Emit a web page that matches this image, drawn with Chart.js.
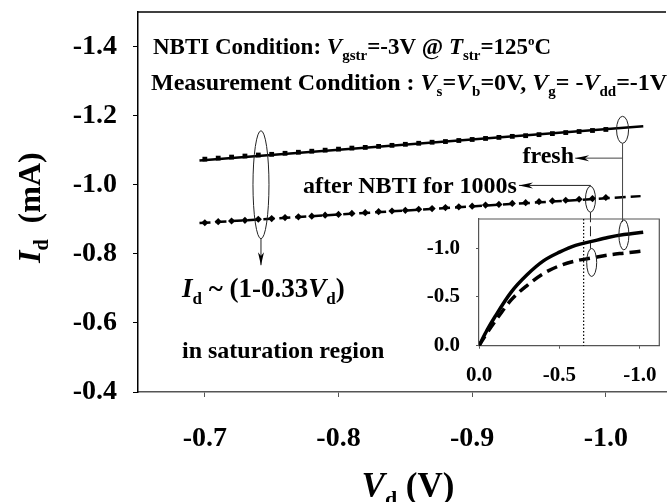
<!DOCTYPE html>
<html lang="en">
<head>
<meta charset="UTF-8" />
<title>NBTI Id-Vd</title>
<script src="https://cdn.jsdelivr.net/npm/chart.js@4"></script>
<style>
  html, body { margin: 0; padding: 0; background: #fff; }
  #wrap { position: relative; width: 670px; height: 502px; }
  #mainChart { position: absolute; left: 0; top: 0; }
  #insetChart { position: absolute; left: 400px; top: 200px; }
</style>
</head>
<body>
<div id="wrap">
  <canvas id="mainChart" width="670" height="502"></canvas>
  <canvas id="insetChart" width="270" height="200"></canvas>
</div>

<script>
  // ---- data ----
  const vdPoints = [-0.70, -0.71, -0.72, -0.73, -0.74, -0.75, -0.76, -0.77, -0.78, -0.79,
                    -0.80, -0.81, -0.82, -0.83, -0.84, -0.85, -0.86, -0.87, -0.88, -0.89,
                    -0.90, -0.91, -0.92, -0.93, -0.94, -0.95, -0.96, -0.97, -0.98, -0.99, -1.00];
  const idFresh = [-1.074, -1.077, -1.080, -1.083, -1.086, -1.088, -1.091, -1.094, -1.097, -1.100,
                   -1.103, -1.106, -1.108, -1.111, -1.114, -1.117, -1.120, -1.123, -1.125, -1.128,
                   -1.131, -1.134, -1.137, -1.140, -1.142, -1.145, -1.148, -1.151, -1.154, -1.157, -1.160];
  const idNbti = [-0.890, -0.893, -0.895, -0.897, -0.900, -0.902, -0.905, -0.907, -0.909, -0.912,
                  -0.914, -0.917, -0.919, -0.922, -0.924, -0.926, -0.929, -0.931, -0.934, -0.936,
                  -0.938, -0.941, -0.943, -0.946, -0.948, -0.951, -0.953, -0.955, -0.958, -0.960, -0.963];
  // linear fits drawn through the data
  const fitFreshVd = [-0.696, -1.028];
  const fitFreshId = [-1.070, -1.169];
  const fitNbtiVd = [-0.696, -1.026];
  const fitNbtiId = [-0.889, -0.967];
  const xTicks = [-0.7, -0.8, -0.9, -1.0];
  const yTicks = [-0.4, -0.6, -0.8, -1.0, -1.2, -1.4];

  // inset: full Id-Vd curves
  const insetVd = [0, -0.05, -0.1, -0.2, -0.3, -0.4, -0.5, -0.6, -0.7, -0.8, -0.9, -1.02];
  const insetFresh = [0, -0.16, -0.30, -0.55, -0.73, -0.87, -0.96, -1.03, -1.07, -1.11, -1.14, -1.165];
  const insetNbti = [0, -0.13, -0.25, -0.47, -0.62, -0.74, -0.82, -0.87, -0.90, -0.93, -0.95, -0.972];
  const insetXTicks = [0, -0.5, -1.0];
  const insetYTicks = [0, -0.5, -1.0];
  const insetSatVd = -0.65;

  const FONT = '"Liberation Serif", "Times New Roman", serif';

  const pts = (xs, ys) => xs.map((x, i) => ({ x: x, y: ys[i] }));

  // draw a run of bold text with italic / sub / superscript pieces
  function rich(ctx, x, y, parts, size, dryRun) {
    let cx = x;
    parts.forEach(([t, k]) => {
      let fs = size, dy = 0, style = 'bold';
      if (k === 'i') style = 'italic bold';
      if (k === 's') { fs = Math.round(size * 0.64); dy = size * 0.25; }
      if (k === 'u') { fs = Math.round(size * 0.58); dy = -size * 0.38; }
      ctx.font = style + ' ' + fs + 'px ' + FONT;
      if (!dryRun) ctx.fillText(t, cx, y + dy);
      cx += ctx.measureText(t).width;
    });
    return cx - x;
  }

  function ellipse(ctx, cx, cy, rx, ry) {
    ctx.beginPath();
    ctx.ellipse(cx, cy, rx, ry, 0, 0, Math.PI * 2);
    ctx.stroke();
  }

  // barbed arrow head pointing from (x0,y0) to (x1,y1)
  function arrowHead(ctx, x0, y0, x1, y1, len, half) {
    const a = Math.atan2(y1 - y0, x1 - x0);
    const c = Math.cos(a), s = Math.sin(a);
    ctx.beginPath();
    ctx.moveTo(x1, y1);
    ctx.lineTo(x1 - len * c + half * s, y1 - len * s - half * c);
    ctx.lineTo(x1 - len * 0.7 * c, y1 - len * 0.7 * s);
    ctx.lineTo(x1 - len * c - half * s, y1 - len * s + half * c);
    ctx.closePath();
    ctx.fill();
  }

  const mainNotes = {
    id: 'mainNotes',
    afterDraw(chart) {
      const ctx = chart.ctx;
      const X = v => chart.scales.x.getPixelForValue(v);
      const Y = v => chart.scales.y.getPixelForValue(v);
      const area = chart.chartArea;
      ctx.save();

      // top frame line
      ctx.strokeStyle = '#000';
      ctx.lineWidth = 1.5;
      ctx.beginPath();
      ctx.moveTo(area.left, area.top);
      ctx.lineTo(area.right, area.top);
      ctx.stroke();

      ctx.fillStyle = '#000';
      ctx.textBaseline = 'alphabetic';
      ctx.textAlign = 'left';

      rich(ctx, 153, 54, [['NBTI Condition: ', 'b'], ['V', 'i'], ['gstr', 's'], ['=-3V @ ', 'b'],
        ['T', 'i'], ['str', 's'], ['=125', 'b'], ['o', 'u'], ['C', 'b']], 23);
      rich(ctx, 151, 90, [['Measurement Condition : ', 'b'], ['V', 'i'], ['s', 's'], ['=', 'b'],
        ['V', 'i'], ['b', 's'], ['=0V, ', 'b'], ['V', 'i'], ['g', 's'], ['= -', 'b'],
        ['V', 'i'], ['dd', 's'], ['=-1V', 'b']], 24);

      const freshParts = [['fresh', 'b']];
      const w = rich(ctx, 0, 0, freshParts, 24, true);
      rich(ctx, 574 - w, 163, freshParts, 24);
      rich(ctx, 303, 193, [['after NBTI for 1000s', 'b']], 24);
      rich(ctx, 182, 297, [['I', 'i'], ['d', 's'], [' ~ (1-0.33', 'b'], ['V', 'i'], ['d', 's'], [')', 'b']], 27);
      rich(ctx, 182, 358, [['in saturation region', 'b']], 24);

      // ellipses + leaders
      ctx.lineWidth = 1;
      ctx.strokeStyle = '#222';
      // big ellipse on the saturation lines, arrow to formula
      const bx = X(-0.742), by = Y(-1.0);
      ellipse(ctx, bx, by, 8, 54);
      ctx.beginPath();
      ctx.moveTo(bx, by + 54);
      ctx.lineTo(bx, Y(-0.767));
      ctx.stroke();
      arrowHead(ctx, bx, by + 54, bx, Y(-0.767), 13, 3);

      // fresh
      const fx = X(-1.0125), fy = Y(-1.159);
      ellipse(ctx, fx, fy, 6, 13.5);
      ctx.strokeStyle = '#444';
      ctx.beginPath();
      ctx.moveTo(fx, fy + 13.5);
      ctx.lineTo(fx, Y(-0.892));
      ctx.moveTo(fx, Y(-1.077));
      ctx.lineTo(X(-0.977), Y(-1.077));
      ctx.stroke();
      arrowHead(ctx, fx, Y(-1.077), X(-0.977), Y(-1.077), 14, 3);

      // after NBTI
      ctx.strokeStyle = '#222';
      const nx = X(-0.9885), ny = Y(-0.958);
      ellipse(ctx, nx, ny, 5, 13);
      ctx.beginPath();
      ctx.moveTo(nx, ny - 13);
      ctx.lineTo(nx, Y(-0.998));
      ctx.lineTo(X(-0.935), Y(-0.998));
      ctx.stroke();
      arrowHead(ctx, nx, Y(-0.998), X(-0.935), Y(-0.998), 14, 3);
      ctx.setLineDash([10, 4]);
      ctx.beginPath();
      ctx.moveTo(nx, ny + 13);
      ctx.lineTo(nx, Y(-0.815));
      ctx.stroke();
      ctx.setLineDash([]);

      // axis titles
      const xt = [['V', 'i'], ['d', 's'], [' (V)', 'b']];
      const xw = rich(ctx, 0, 0, xt, 35, true);
      rich(ctx, 408 - xw / 2, 497, xt, 35);
      ctx.translate(40, 263);
      ctx.rotate(-Math.PI / 2);
      rich(ctx, 0, 0, [['I', 'i'], ['d', 's'], ['  (mA)', 'b']], 32);
      ctx.restore();
    }
  };

  const tickFont = { family: FONT, size: 28, weight: 'bold' };

  new Chart(document.getElementById('mainChart'), {
    type: 'scatter',
    data: {
      datasets: [
        { data: pts(fitFreshVd, fitFreshId), showLine: true, borderColor: '#000', borderWidth: 2.5, pointRadius: 0 },
        { data: pts(vdPoints, idFresh), pointStyle: 'rect', pointRadius: 3.4, backgroundColor: '#000', borderColor: '#000', borderWidth: 0 },
        { data: pts(fitNbtiVd, fitNbtiId), showLine: true, borderColor: '#000', borderWidth: 2.5, borderDash: [11, 5], pointRadius: 0 },
        { data: pts(vdPoints, idNbti), pointStyle: 'rectRot', pointRadius: 3.6, backgroundColor: '#000', borderColor: '#000', borderWidth: 0 }
      ]
    },
    options: {
      responsive: false,
      animation: false,
      devicePixelRatio: 1,
      layout: { padding: { top: 12, right: 0, left: 0, bottom: 0 } },
      plugins: { legend: { display: false }, tooltip: { enabled: false } },
      scales: {
        x: {
          type: 'linear', reverse: true, min: -1.045, max: -0.65,
          afterBuildTicks: s => { s.ticks = xTicks.map(v => ({ value: v })); },
          afterFit: s => { s.height = 110; s.paddingLeft = 0; s.paddingRight = 0; },
          grid: { drawOnChartArea: false, tickLength: 5, color: '#555' },
          border: { color: '#555', width: 1.5 },
          ticks: { color: '#000', font: tickFont, padding: 25, maxRotation: 0, autoSkip: false,
                   callback: v => v.toFixed(1) }
        },
        y: {
          type: 'linear', reverse: true, min: -1.5, max: -0.4,
          afterBuildTicks: s => { s.ticks = yTicks.map(v => ({ value: v })); },
          afterFit: s => { s.width = 138; s.paddingTop = 0; s.paddingBottom = 0; },
          grid: { drawOnChartArea: false, tickLength: 5, color: '#000' },
          border: { color: '#000', width: 1.5 },
          ticks: { color: '#000', font: tickFont, padding: 16, callback: v => v.toFixed(1) }
        }
      }
    },
    plugins: [mainNotes]
  });

  const insetNotes = {
    id: 'insetNotes',
    afterDraw(chart) {
      const ctx = chart.ctx;
      const X = v => chart.scales.x.getPixelForValue(v);
      const Y = v => chart.scales.y.getPixelForValue(v);
      const a = chart.chartArea;
      ctx.save();
      ctx.strokeStyle = '#555';
      ctx.lineWidth = 1.2;
      ctx.beginPath();
      ctx.moveTo(a.left, a.top);
      ctx.lineTo(a.right, a.top);
      ctx.lineTo(a.right, a.bottom);
      ctx.stroke();
      // saturation boundary
      ctx.strokeStyle = '#000';
      ctx.lineWidth = 1.2;
      ctx.setLineDash([1.5, 2]);
      ctx.beginPath();
      ctx.moveTo(X(insetSatVd), a.top);
      ctx.lineTo(X(insetSatVd), a.bottom);
      ctx.stroke();
      ctx.setLineDash([]);
      ctx.lineWidth = 1;
      ctx.strokeStyle = '#222';
      ellipse(ctx, X(-0.9), Y(-1.137), 5, 15);
      ellipse(ctx, X(-0.7), Y(-0.854), 5, 14);
      ctx.restore();
    }
  };

  const insetFont = { family: FONT, size: 21, weight: 'bold' };

  new Chart(document.getElementById('insetChart'), {
    type: 'scatter',
    data: {
      datasets: [
        { data: pts(insetVd, insetFresh), showLine: true, borderColor: '#000', borderWidth: 3.5,
          pointRadius: 0, cubicInterpolationMode: 'monotone' },
        { data: pts(insetVd, insetNbti), showLine: true, borderColor: '#000', borderWidth: 3.5,
          borderDash: [11, 6], pointRadius: 0, cubicInterpolationMode: 'monotone' }
      ]
    },
    options: {
      responsive: false,
      animation: false,
      devicePixelRatio: 1,
      layout: { padding: { top: 19, right: 10.7, left: 0, bottom: 0 } },
      plugins: { legend: { display: false }, tooltip: { enabled: false } },
      scales: {
        x: {
          type: 'linear', reverse: true, min: -1.12, max: 0,
          afterBuildTicks: s => { s.ticks = insetXTicks.map(v => ({ value: v })); },
          afterFit: s => { s.height = 54.3; s.paddingLeft = 0; s.paddingRight = 0; },
          grid: { drawOnChartArea: false, tickLength: 3, color: '#555' },
          border: { color: '#555', width: 1.2 },
          ticks: { color: '#000', font: insetFont, padding: 14, maxRotation: 0, autoSkip: false,
                   callback: v => v.toFixed(1) }
        },
        y: {
          type: 'linear', reverse: true, min: -1.3, max: 0,
          afterBuildTicks: s => { s.ticks = insetYTicks.map(v => ({ value: v })); },
          afterFit: s => { s.width = 79; s.paddingTop = 0; s.paddingBottom = 0; },
          grid: { drawOnChartArea: false, tickLength: 3, color: '#555' },
          border: { color: '#555', width: 1.2 },
          ticks: { color: '#000', font: insetFont, padding: 16, callback: v => v.toFixed(1) }
        }
      }
    },
    plugins: [insetNotes]
  });
</script>
</body>
</html>
